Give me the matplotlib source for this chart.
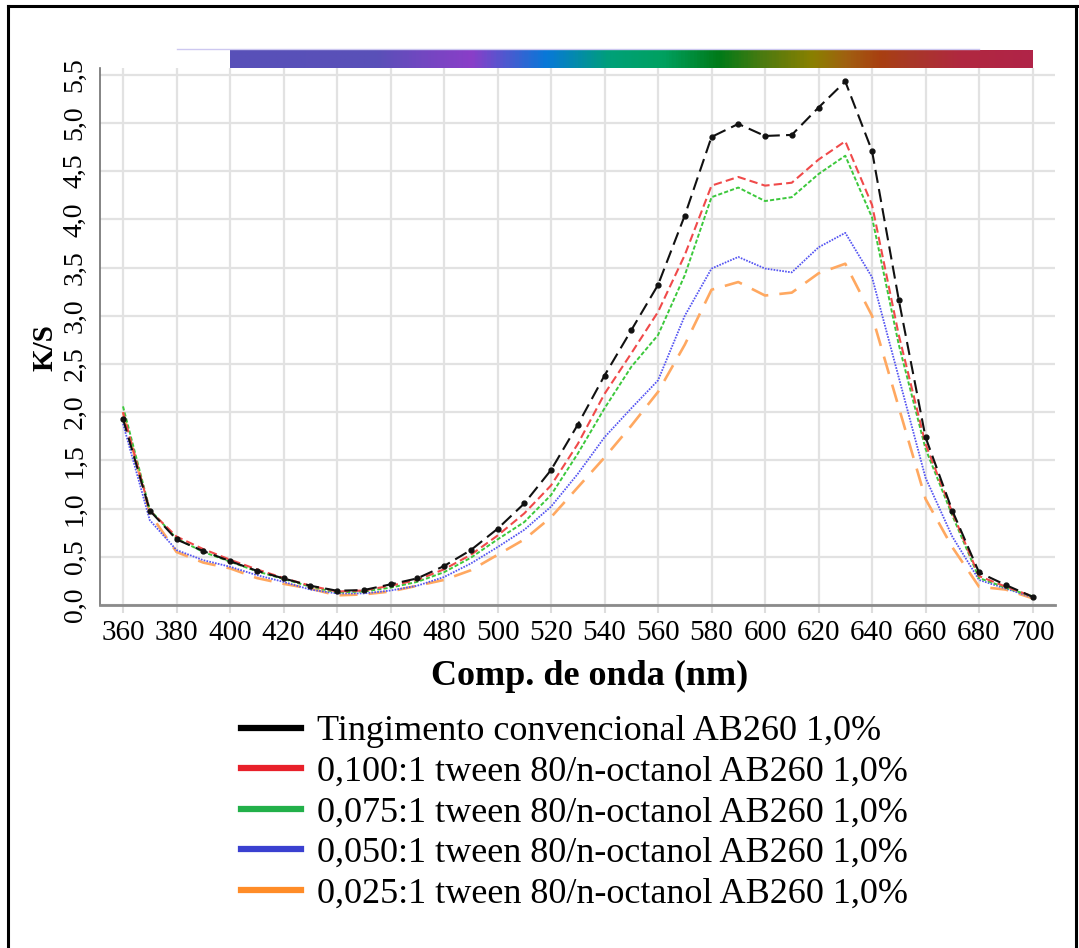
import matplotlib.pyplot as plt
import numpy as np
from matplotlib.colors import LinearSegmentedColormap
from matplotlib.lines import Line2D

plt.rcParams['font.family'] = ['Liberation Serif', 'DejaVu Serif']
plt.rcParams['lines.scale_dashes'] = False

wavelength = list(range(360, 701, 10))

ks_conv = [1.93, 0.98, 0.68, 0.56, 0.455, 0.355, 0.276, 0.20, 0.148, 0.155, 0.214, 0.276,
           0.404, 0.569, 0.79, 1.053, 1.40, 1.87, 2.38, 2.85, 3.32, 4.04, 4.855, 4.99,
           4.865, 4.876, 5.16, 5.43, 4.71, 3.165, 1.74, 0.98, 0.338, 0.207, 0.086]
ks_0100 = [2.00, 0.98, 0.71, 0.58, 0.47, 0.37, 0.28, 0.20, 0.14, 0.15, 0.20, 0.26,
           0.37, 0.52, 0.72, 0.95, 1.24, 1.67, 2.19, 2.61, 3.04, 3.63, 4.35, 4.44,
           4.35, 4.38, 4.62, 4.81, 4.15, 2.80, 1.67, 0.96, 0.30, 0.19, 0.09]
ks_0075 = [2.06, 0.99, 0.69, 0.55, 0.45, 0.35, 0.27, 0.19, 0.13, 0.14, 0.18, 0.24,
           0.34, 0.49, 0.68, 0.86, 1.14, 1.57, 2.04, 2.47, 2.80, 3.42, 4.23, 4.33,
           4.19, 4.23, 4.47, 4.66, 4.02, 2.70, 1.62, 0.93, 0.28, 0.18, 0.09]
ks_0050 = [1.88, 0.88, 0.57, 0.465, 0.397, 0.31, 0.24, 0.16, 0.12, 0.12, 0.15, 0.20,
           0.29, 0.43, 0.60, 0.78, 1.02, 1.36, 1.74, 2.04, 2.33, 3.00, 3.49, 3.61,
           3.49, 3.45, 3.71, 3.86, 3.40, 2.36, 1.32, 0.71, 0.26, 0.17, 0.08]
ks_0025 = [2.00, 0.95, 0.55, 0.44, 0.38, 0.28, 0.22, 0.17, 0.10, 0.11, 0.14, 0.20,
           0.26, 0.36, 0.52, 0.68, 0.91, 1.22, 1.53, 1.86, 2.21, 2.70, 3.27, 3.35,
           3.21, 3.24, 3.44, 3.54, 3.00, 2.05, 1.10, 0.60, 0.19, 0.16, 0.07]

labels = ['Tingimento convencional AB260 1,0%',
          '0,100:1 tween 80/n-octanol AB260 1,0%',
          '0,075:1 tween 80/n-octanol AB260 1,0%',
          '0,050:1 tween 80/n-octanol AB260 1,0%',
          '0,025:1 tween 80/n-octanol AB260 1,0%']

xticks = list(range(360, 701, 20))
yticks = [0.0, 0.5, 1.0, 1.5, 2.0, 2.5, 3.0, 3.5, 4.0, 4.5, 5.0, 5.5]
yticklabels = ['0,0', '0,5', '1,0', '1,5', '2,0', '2,5', '3,0', '3,5', '4,0', '4,5', '5,0', '5,5']

# spectrum strip: wavelength stops and colours
strip_nm = [400, 455, 470, 490, 518, 542, 562, 583, 599, 618, 631, 643, 655, 674, 700]
strip_col = ['#5850b8', '#5a50b8', '#7048c0', '#8a3ec8', '#0878d8', '#00a078', '#00a060',
             '#007a18', '#4a7a10', '#8a8000', '#a06010', '#a84010', '#a83828', '#b02840', '#b02448']

fig = plt.figure(figsize=(10.79, 9.48), dpi=100)
ax = fig.add_axes([100 / 1079, 1 - 605 / 948, 955 / 1079, 537 / 948])
xlim = (351.4, 708.4)
ax.set_xlim(*xlim)
ax.set_ylim(0, 5.57)

ax.plot(wavelength, ks_0025, color='#ffa860', lw=1.9, dashes=(13, 8))
ax.plot(wavelength, ks_0050, color='#5555f2', lw=1.3, dashes=(1.2, 0.9))
ax.plot(wavelength, ks_0075, color='#3cc83c', lw=1.4, dashes=(3, 1.5))
ax.plot(wavelength, ks_0100, color='#f04a4a', lw=1.5, dashes=(6, 3))
ax.plot(wavelength, ks_conv, color='#111111', lw=1.5, dashes=(9.5, 4.5),
        marker='o', markersize=3.5)

ax.set_xticks(xticks)
ax.set_xticklabels([str(t) for t in xticks])
ax.set_yticks(yticks)
ax.set_yticklabels(yticklabels, rotation=90, va='center')
ax.grid(True, color='#e2e2e2', lw=1.6)
ax.set_axisbelow(True)
for s in ['top', 'right']:
    ax.spines[s].set_visible(False)
ax.spines['left'].set_color('#707070')
ax.spines['left'].set_linewidth(1.2)
ax.spines['bottom'].set_color('#8a8a8a')
ax.spines['bottom'].set_linewidth(2)
ax.tick_params(axis='x', length=6, color='#dddddd', width=1.5, labelsize=21, pad=5)
ax.tick_params(axis='y', length=0, labelsize=20, pad=9)
ax.set_xlabel('Comp. de onda (nm)', fontsize=26, fontweight='bold', labelpad=10)
ax.xaxis.label.set_x(0.513)
ax.set_ylabel('K/S', fontsize=21, fontweight='bold', labelpad=3)
ax.yaxis.label.set_y(0.48)

# colour strip on top
cax = fig.add_axes([100 / 1079, 1 - 68 / 948, 955 / 1079, 18 / 948])
cax.set_xlim(*xlim)
cax.set_ylim(0, 1)
cax.axis('off')
pos = [(n - strip_nm[0]) / (strip_nm[-1] - strip_nm[0]) for n in strip_nm]
cmap = LinearSegmentedColormap.from_list('spec', list(zip(pos, strip_col)))
cax.imshow(np.linspace(0, 1, 600)[None, :], cmap=cmap, extent=(400, 700, 0, 1), aspect='auto')
cax.plot([380, 680], [1.06, 1.06], color='#cdc8f0', lw=1, clip_on=False)

# frame around the figure
fig.add_artist(Line2D([8 / 1079, 8 / 1079], [0, 1 - 6 / 948], transform=fig.transFigure, color='black', lw=2.2))
fig.add_artist(Line2D([8 / 1079, 1], [1 - 6 / 948, 1 - 6 / 948], transform=fig.transFigure, color='black', lw=2.2))
fig.add_artist(Line2D([1076 / 1079, 1076 / 1079], [0, 1 - 6 / 948], transform=fig.transFigure, color='black', lw=2.2))

handles = [Line2D([0], [0], color=c, lw=4.5) for c in ['#000000', '#e8202a', '#22b04a', '#3a40d0', '#ff8c28']]
fig.legend(handles, labels, loc='upper left', bbox_to_anchor=(223 / 1079, 1 - 697 / 948),
           frameon=False, fontsize=26, handlelength=1.65, handletextpad=0.45,
           labelspacing=0.2, borderpad=0)

fig.savefig('out.png', dpi=100)
